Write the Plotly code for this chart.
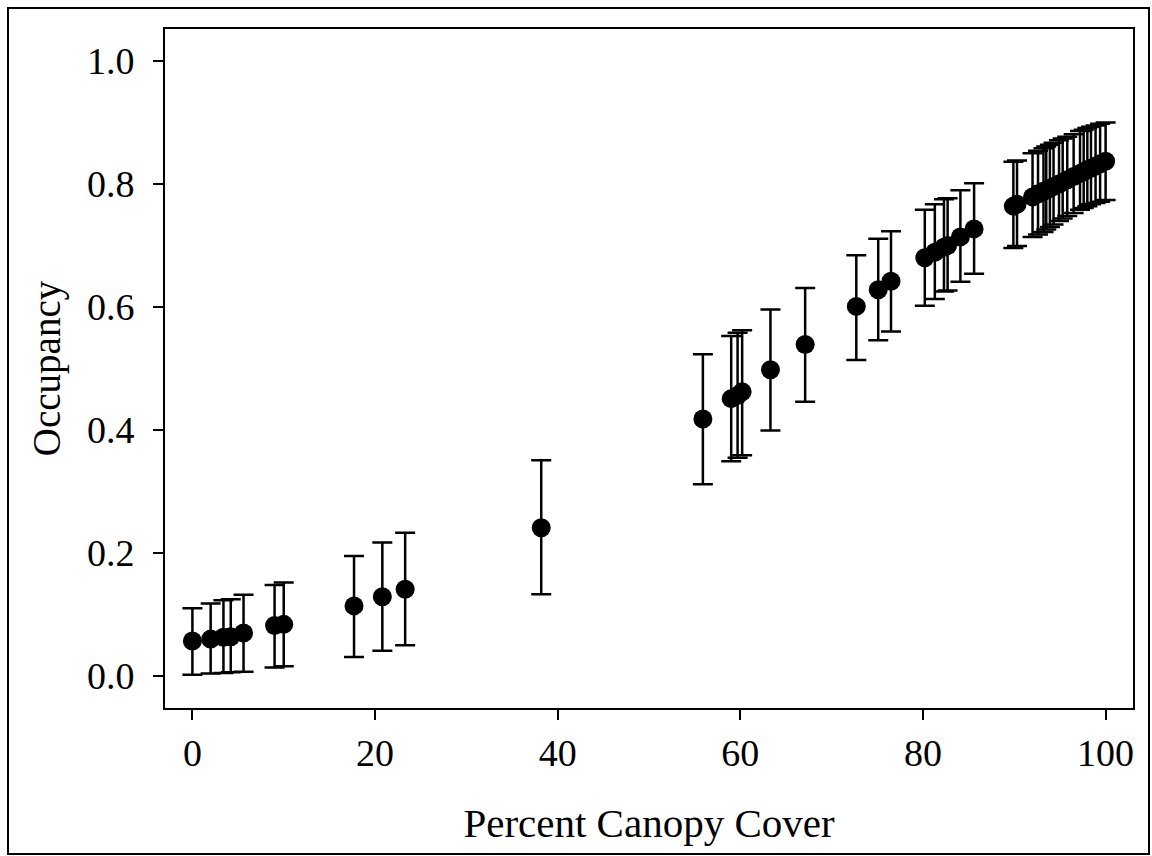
import plotly.graph_objects as go
import numpy as np

canopy_cover = [0.0, 2.0, 3.4, 4.2, 5.6, 9.0, 10.0, 17.7, 20.8, 23.3, 38.2,
                55.9, 59.0, 59.7, 60.2, 63.3, 67.1, 72.7, 75.1, 76.5,
                80.2, 81.3, 82.3, 82.7, 84.1, 85.6, 89.9, 90.3,
                92.0, 92.6, 93.2, 93.5, 93.9, 94.3, 94.9, 95.3, 95.8, 96.5,
                97.2, 97.6, 98.0, 98.4, 98.9, 99.4, 100.0]
occupancy = [0.057, 0.060, 0.063, 0.064, 0.070, 0.082, 0.084, 0.114, 0.129, 0.141, 0.241,
             0.418, 0.451, 0.456, 0.462, 0.498, 0.539, 0.601, 0.628, 0.642,
             0.680, 0.689, 0.697, 0.700, 0.714, 0.727, 0.764, 0.767,
             0.779, 0.784, 0.788, 0.790, 0.793, 0.796, 0.800, 0.803, 0.807, 0.812,
             0.817, 0.820, 0.823, 0.826, 0.829, 0.833, 0.837]
upper_ci = [0.110, 0.118, 0.123, 0.125, 0.132, 0.148, 0.152, 0.195, 0.217, 0.233, 0.351,
            0.523, 0.553, 0.558, 0.562, 0.596, 0.631, 0.684, 0.711, 0.723,
            0.758, 0.767, 0.775, 0.777, 0.790, 0.801, 0.836, 0.838,
            0.850, 0.854, 0.858, 0.861, 0.864, 0.867, 0.871, 0.874, 0.877, 0.881,
            0.886, 0.888, 0.891, 0.893, 0.895, 0.898, 0.900]
lower_ci = [0.002, 0.004, 0.005, 0.006, 0.007, 0.014, 0.016, 0.031, 0.041, 0.050, 0.133,
            0.312, 0.349, 0.355, 0.359, 0.399, 0.446, 0.514, 0.546, 0.560,
            0.602, 0.613, 0.625, 0.627, 0.641, 0.654, 0.696, 0.699,
            0.714, 0.718, 0.722, 0.726, 0.730, 0.734, 0.740, 0.744, 0.748, 0.753,
            0.758, 0.761, 0.764, 0.767, 0.769, 0.771, 0.774]

x_ticks = [0, 20, 40, 60, 80, 100]
y_ticks = [0.0, 0.2, 0.4, 0.6, 0.8, 1.0]
y_tick_labels = ["0.0", "0.2", "0.4", "0.6", "0.8", "1.0"]

occ = np.array(occupancy)
err_plus = np.array(upper_ci) - occ
err_minus = occ - np.array(lower_ci)

FONT = "Liberation Serif, Times New Roman, serif"

fig = go.Figure()
fig.add_trace(go.Scatter(
    x=canopy_cover, y=occupancy, mode="markers",
    marker=dict(color="black", size=19, line=dict(width=0)),
    error_y=dict(type="data", array=err_plus, arrayminus=err_minus,
                 color="black", thickness=2.5, width=10, visible=True),
    showlegend=False,
))

fig.update_layout(
    width=1152, height=856,
    margin=dict(l=165, r=19, t=29, b=148),
    paper_bgcolor="white", plot_bgcolor="white",
    font=dict(family=FONT, color="black"),
    xaxis=dict(range=[-3, 103], tickvals=x_ticks, ticks="outside", ticklen=10,
               tickwidth=1.5, tickcolor="black", showline=True, linecolor="black",
               linewidth=2, mirror=True, showgrid=False, zeroline=False,
               tickfont=dict(size=38, family=FONT),
               title=dict(text="Percent Canopy Cover", font=dict(size=41, family=FONT), standoff=36)),
    yaxis=dict(range=[-0.052, 1.052], tickvals=y_ticks, ticktext=y_tick_labels,
               ticks="outside", ticklen=10, tickwidth=1.5, tickcolor="black",
               showline=True, linecolor="black", linewidth=2, mirror=True,
               showgrid=False, zeroline=False, ticklabelstandoff=11,
               tickfont=dict(size=38, family=FONT),
               title=dict(text="Occupancy", font=dict(size=39, family=FONT), standoff=14)),
    shapes=[dict(type="rect", xref="paper", yref="paper",
                 x0=(8 - 165) / 968, x1=(1149 - 165) / 968,
                 y0=(708 - 854) / 679, y1=(708 - 8) / 679,
                 line=dict(color="black", width=2), fillcolor="rgba(0,0,0,0)", layer="above")],
)

fig.write_html("out.html")
